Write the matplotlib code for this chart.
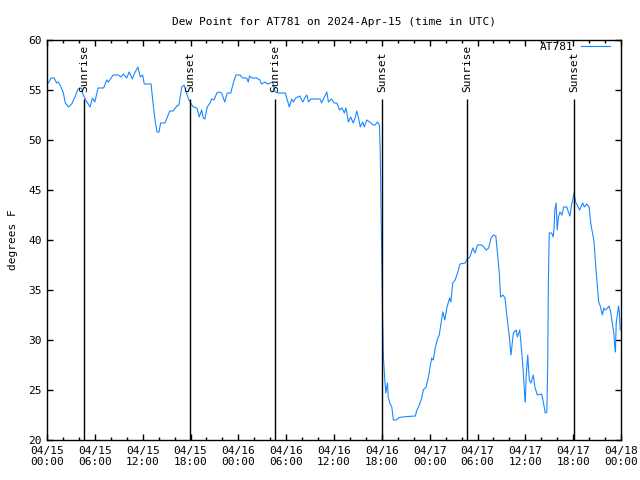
import numpy as np
import pandas as pd
import matplotlib
matplotlib.use("Agg")
import matplotlib.pyplot as plt
import matplotlib.dates as mdates

start = pd.Timestamp("2024-04-15 00:00")

# hours since 04/15 00:00 UTC
hours = [0.16, 0.5, 0.9, 1.2, 1.4, 1.7, 2.05, 2.3, 2.7, 3.1, 3.5, 3.9, 4.3, 4.55, 4.85,
         5.4, 5.7, 6.0, 6.4, 7.1, 7.5, 7.7, 8.3, 8.95, 9.3, 9.6, 10.0, 10.3, 10.7, 11.0,
         11.4, 11.7, 12.0, 12.2, 13.05, 13.3, 13.55, 13.8, 14.05, 14.25, 14.8, 15.1, 15.4,
         15.8, 16.3, 16.55, 16.9, 17.2, 17.5, 17.8, 18.1, 18.35, 18.8, 19.1, 19.4, 19.6,
         19.8, 20.1, 20.45, 20.65, 20.95, 21.3, 21.6, 21.9, 22.3, 22.6, 23.05, 23.4, 23.7,
         24.2, 24.55, 25.05, 25.25, 25.4, 25.7, 26.3, 26.7, 26.9, 27.35, 27.65, 28.0, 28.3,
         28.6, 29.0, 29.9, 30.1, 30.4, 30.7, 30.9, 31.2, 31.7, 32.1, 32.4, 32.6, 32.8, 33.1,
         34.25, 34.45, 34.75, 35.1, 35.3, 35.7, 36.0, 36.35, 36.7, 37.0, 37.3, 37.5, 37.8,
         38.1, 38.4, 38.65, 38.85, 39.05, 39.3, 39.6, 39.8, 40.1, 40.5, 40.9, 41.15, 41.45,
         41.7, 41.8, 41.9, 42.0, 42.1, 42.2, 42.4, 42.5, 42.7, 42.8, 43.0, 43.25, 43.45,
         43.8, 44.1, 44.5, 46.2, 46.4, 46.7, 47.0, 47.2, 47.55, 47.85, 48.05, 48.25, 48.45,
         48.7, 48.95, 49.2, 49.4, 49.65, 49.9, 50.15, 50.5, 50.65, 50.9, 51.2, 51.5, 51.8,
         52.45, 52.7, 53.05, 53.4, 53.7, 54.0, 54.55, 55.1, 55.4, 55.7, 56.0, 56.3, 56.55,
         56.75, 56.9, 57.2, 57.45, 57.7, 57.97, 58.2, 58.5, 58.85, 59.0, 59.3, 59.45, 59.7,
         59.9, 60.0, 60.1, 60.3, 60.5, 60.7, 61.0, 61.2, 61.5, 62.05, 62.25, 62.5, 62.7,
         62.8, 62.9, 63.0, 63.3, 63.5, 63.6, 63.7, 63.86, 64.0, 64.15, 64.35, 64.6, 64.8,
         65.2, 65.4, 65.6, 65.8, 65.96, 66.1, 66.3, 66.5, 66.8, 67.2, 67.4, 67.7, 68.0,
         68.2, 68.4, 68.6, 68.8, 69.0, 69.2, 69.4, 69.65, 69.85, 70.05, 70.3, 70.5, 70.7,
         70.9, 71.1, 71.2, 71.3, 71.4, 71.6, 71.7, 71.8, 71.9]

dewpoint = [55.7, 56.2, 56.2, 55.7, 55.8, 55.4, 54.7, 53.7, 53.3, 53.6, 54.3, 55.1, 55.2, 54.5, 54.0,
            53.3, 54.2, 53.8, 55.2, 55.2, 56.0, 55.8, 56.5, 56.5, 56.3, 56.6, 56.2, 56.8, 56.1, 56.7,
            57.3, 56.3, 56.5, 55.6, 55.6, 53.7, 52.0, 50.8, 50.8, 51.7, 51.7, 52.3, 52.9,
            52.9, 53.4, 53.5, 55.3, 55.5, 54.7, 54.0, 53.6, 53.3, 53.2, 52.3, 53.0, 52.2,
            52.1, 53.3, 53.7, 54.1, 54.0, 54.7, 54.8, 54.7, 53.8, 54.7, 54.7, 55.8, 56.5,
            56.5, 56.2, 56.2, 55.8, 56.4, 56.2, 56.2, 56.0, 55.6, 55.8, 55.6, 55.7, 55.8,
            54.8, 54.7, 54.7, 54.1, 53.3, 54.1, 53.8, 54.2, 54.4, 53.8, 54.3, 54.5, 53.8, 54.1,
            54.1, 53.7, 54.2, 54.8, 53.8, 54.1, 53.7, 53.7, 53.0, 53.2, 52.7, 53.2, 51.8,
            52.3, 51.7, 52.2, 52.9, 52.3, 51.3, 51.8, 51.3, 52.0, 51.8, 51.5, 51.5, 51.8,
            51.5, 48.7, 43.2, 37.7, 32.0, 28.2, 25.7, 24.7, 25.7, 24.3, 23.7, 23.3, 22.0,
            22.0, 22.2, 22.3, 22.4, 23.0, 23.5, 24.2, 25.0, 25.3, 26.3, 27.3, 28.2, 28.0,
            29.2, 30.0, 30.5, 31.5, 32.8, 32.0, 33.2, 34.2, 33.8, 35.7, 36.0, 36.7, 37.6,
            37.7, 38.1, 38.3, 39.2, 38.7, 39.5, 39.5, 39.0, 39.2, 40.2, 40.5, 40.4, 38.3,
            36.5, 34.3, 34.5, 34.2, 32.3, 30.5, 28.5, 30.7, 31.0, 30.3, 31.0, 29.7, 27.3,
            24.7, 23.8, 26.3, 28.5, 26.0, 25.7, 26.5, 25.3, 24.5, 24.6, 23.8, 22.7, 22.8,
            27.3, 36.3, 40.7, 40.7, 40.3, 41.2, 43.0, 43.7, 41.0, 42.3, 42.8, 42.5, 43.3,
            43.3, 42.8, 42.4, 43.5, 44.0, 44.7, 43.8, 43.5, 43.0, 43.7, 43.3, 43.6, 43.3,
            41.7, 40.8, 40.0, 37.7, 35.7, 33.8, 33.4, 32.5, 33.2, 33.0, 33.2, 33.4, 32.8,
            31.7, 30.7, 29.5, 28.8, 31.7, 32.8, 33.4, 32.7, 31.0]

sun_hours = [4.68, 17.98, 28.65, 42.07, 52.74, 66.16]
sun_labels = ["Sunrise", "Sunset", "Sunrise", "Sunset", "Sunrise", "Sunset"]

plt.rcParams["font.family"] = ["DejaVu Sans Mono"]
plt.rcParams["font.size"] = 8

times = start + pd.to_timedelta(hours, unit="h")
sun_times = start + pd.to_timedelta(sun_hours, unit="h")

fig = plt.figure(figsize=(6.4, 4.8), dpi=100)
ax = fig.add_axes([47 / 640, 40 / 480, 574 / 640, 400 / 480])

ax.plot(times, dewpoint, color="#1a88ff", lw=0.8, label="AT781")

for t, lab in zip(sun_times, sun_labels):
    ax.vlines(t, 20, 54.1, color="black", lw=1.0)
    ax.text(t, 54.8, lab, rotation=90, ha="center", va="bottom", fontsize=8)

ax.set_xlim(start, start + pd.Timedelta(hours=72))
ax.set_ylim(20, 60)
ax.set_yticks(np.arange(20, 61, 5))
ax.xaxis.set_major_locator(mdates.HourLocator(byhour=range(0, 24, 6)))
ax.xaxis.set_minor_locator(mdates.HourLocator(byhour=range(0, 24, 2)))
ax.xaxis.set_major_formatter(mdates.DateFormatter("%m/%d\n%H:%M"))
ax.tick_params(which="both", direction="in", top=True, right=True, width=1.0)
ax.tick_params(which="major", length=4.5, pad=4)
ax.tick_params(which="minor", length=2.5)
for s in ax.spines.values():
    s.set_linewidth(1.0)

ax.set_title("Dew Point for AT781 on 2024-Apr-15 (time in UTC)", fontsize=8, pad=11)
ax.set_ylabel("degrees F", labelpad=7)
ax.legend(loc="upper right", bbox_to_anchor=(0.984, 1.0), frameon=False,
          markerfirst=False, handlelength=2.6, handletextpad=0.6,
          borderaxespad=0, borderpad=0.2, fontsize=8)

fig.savefig("out.png", dpi=100)
